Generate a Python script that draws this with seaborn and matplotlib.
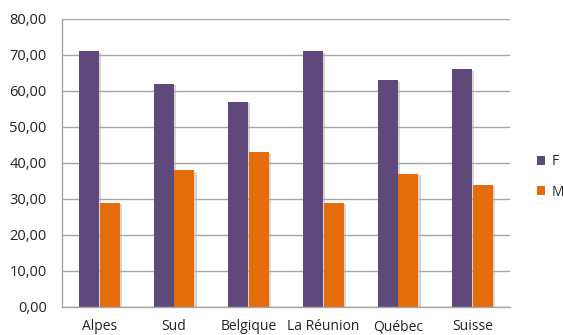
import matplotlib
matplotlib.use("Agg")
import matplotlib.pyplot as plt
import matplotlib.patheffects as pe
from matplotlib.patches import Patch
import seaborn as sns
import pandas as pd

regions = ["Alpes", "Sud", "Belgique", "La Réunion", "Québec", "Suisse"]
values_f = [71, 62, 57, 71, 63, 66]
values_m = [29, 38, 43, 29, 37, 34]
series = ["F", "M"]
colors = ["#5F497A", "#E46C0A"]
yticks = [0, 10, 20, 30, 40, 50, 60, 70, 80]

df = pd.DataFrame({
    "region": regions * 2,
    "value": values_f + values_m,
    "sexe": ["F"] * len(regions) + ["M"] * len(regions),
})

sns.set_style("white")
plt.rcParams["font.family"] = ["Open Sans", "DejaVu Sans"]

fig = plt.figure(figsize=(5.63, 3.35), dpi=100)
ax = fig.add_axes([62 / 563, 28 / 335, 448 / 563, 288 / 335])

sns.barplot(data=df, x="region", y="value", hue="sexe", hue_order=series,
            palette=colors, width=0.56, gap=0.04, ax=ax, legend=False,
            saturation=1, linewidth=0)

for p in ax.patches:
    p.set_path_effects([pe.SimplePatchShadow(offset=(1.5, -1), shadow_rgbFace="#B0B0B0", alpha=0.5),
                        pe.Normal()])

ax.set_ylim(0, 80)
ax.set_xlim(-0.5, len(regions) - 0.5)
ax.set_yticks(yticks)
ax.set_yticklabels([f"{v:.2f}".replace(".", ",") for v in yticks], fontsize=10.5, color="#222222")
ax.yaxis.grid(True, color="#A6A6A6", linewidth=1)
ax.set_axisbelow(True)
ax.set_xlabel("")
ax.set_ylabel("")

ax.set_xticks(range(len(regions)))
ax.set_xticklabels(regions, fontsize=10, color="#222222")
ax.tick_params(axis="x", length=0, pad=9)
ax.set_xticks([i - 0.5 for i in range(len(regions) + 1)], minor=True)
ax.tick_params(axis="x", which="minor", length=6, color="#A6A6A6", width=1, direction="out")
ax.tick_params(axis="y", length=6, color="#A6A6A6", width=1, direction="out", pad=5)

for side in ["top", "right"]:
    ax.spines[side].set_visible(False)
for side in ["left", "bottom"]:
    ax.spines[side].set_color("#A6A6A6")
    ax.spines[side].set_linewidth(1)

handles = [Patch(facecolor=c, edgecolor="none") for c in colors]
fig.legend(handles, series, loc="center left", bbox_to_anchor=(527 / 563, 1 - 177 / 335),
           frameon=False, fontsize=10, handlelength=0.6, handleheight=0.6,
           handletextpad=0.5, labelspacing=1.1, borderpad=0.2)

fig.savefig("out.png", dpi=100)
